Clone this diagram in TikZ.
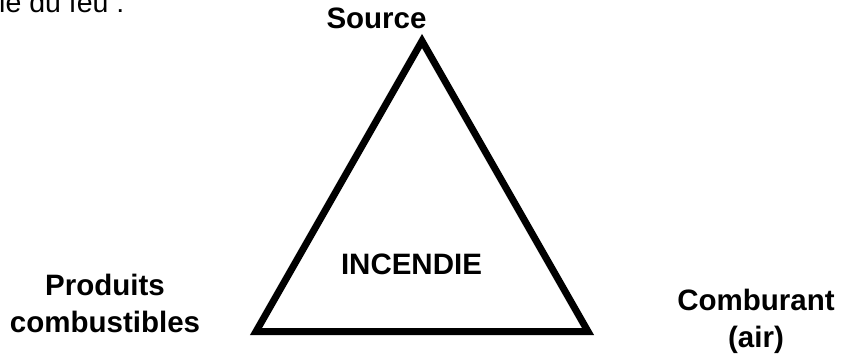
\documentclass[tikz,border=0pt]{standalone}
\usepackage{fontspec}
\setmainfont{Liberation Sans}
\usepackage{tikz}

\tikzset{
    lbl/.style={font=\fontsize{29.5}{36.5}\selectfont\bfseries, anchor=base, inner sep=0pt, align=center},
}

\begin{document}
\begin{tikzpicture}[x=1pt, y=-1pt]
    \useasboundingbox (0, 0) rectangle (851, 361);

    \node[font=\fontsize{28.5}{34}\selectfont, anchor=base west, inner sep=0pt] at (-1, 13) (title) {le du feu :};

    \coordinate (apex) at (422, 41);
    \coordinate (left) at (256, 331.5);
    \coordinate (right) at (588, 331.5);
    \draw[line width=7pt] (apex) -- (right) -- (left) -- cycle;

    \node[lbl] at (376.5, 29) (source) {Source};
    \node[lbl] at (411.5, 274) (fire) {INCENDIE};
    \node[lbl] at (105, 332) (fuel) {Produits\\combustibles};
    \node[lbl] at (756, 347) (air) {Comburant\\(air)};
\end{tikzpicture}
\end{document}
